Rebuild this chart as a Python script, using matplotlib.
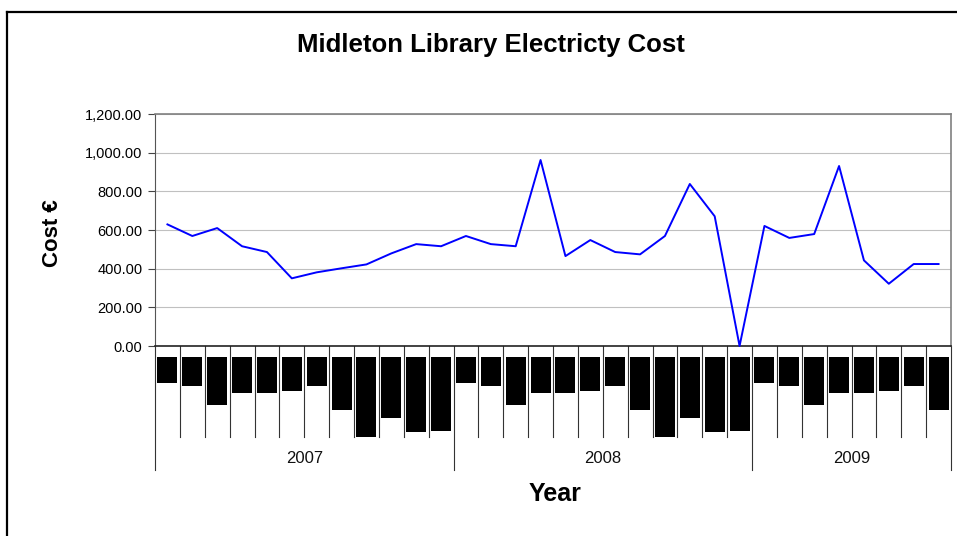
import numpy as np
import matplotlib
matplotlib.use("Agg")
import matplotlib.pyplot as plt
import matplotlib.transforms as mtransforms
from matplotlib.lines import Line2D
from matplotlib.patches import Rectangle
from matplotlib.ticker import FuncFormatter

# ===== DATA =====
years = ["2007", "2008", "2009"]
months_per_year = [12, 12, 8]
month_names = ["Jan", "Feb", "Mar", "Apr", "May", "Jun",
               "Jul", "Aug", "Sep", "Oct", "Nov", "Dec"]
cost = [629, 569, 610, 516, 486, 350, 381, 402, 422, 479, 527, 516,
        569, 527, 516, 962, 465, 548, 486, 474, 569, 838, 671, 0,
        621, 559, 579, 931, 443, 322, 424, 424]
y_ticks = [0, 200, 400, 600, 800, 1000, 1200]

# ===== LAYOUT (pixels) =====
W, H = 957, 536
plot_px = dict(left=155, right=951, top=114, bottom=346)
# month labels render as black blocks in the reference; length per month in px
label_len_px = [26, 29, 48, 36, 36, 34, 29, 53, 80, 61, 75, 74]

plt.rcParams["font.family"] = ["Liberation Sans", "DejaVu Sans"]

fig = plt.figure(figsize=(W / 100, H / 100), dpi=100)
ax = fig.add_axes([plot_px["left"] / W, 1 - plot_px["bottom"] / H,
                   (plot_px["right"] - plot_px["left"]) / W,
                   (plot_px["bottom"] - plot_px["top"]) / H])
ax_h = plot_px["bottom"] - plot_px["top"]


def px_to_ax(py):
    # figure pixel y -> axes fraction y
    return (plot_px["bottom"] - py) / ax_h


n = len(cost)
x = np.arange(n)

# ===== LINE =====
ax.plot(x, cost, color="#0000FF", lw=1.4, zorder=3, clip_on=False)

ax.set_xlim(-0.5, n - 0.5)
ax.set_ylim(0, 1200)
ax.set_yticks(y_ticks)
ax.yaxis.set_major_formatter(FuncFormatter(lambda v, p: f"{v:,.2f}"))
ax.tick_params(axis="y", direction="out", length=5, width=0.8, color="#444444",
               labelsize=10.5, pad=4)
ax.set_xticks([])
ax.grid(axis="y", color="#c0c0c0", lw=0.8)
ax.set_axisbelow(True)

for side in ["top", "right"]:
    ax.spines[side].set_color("#808080")
    ax.spines[side].set_linewidth(1.2)
ax.spines["left"].set_color("#555555")
ax.spines["bottom"].set_color("#222222")
ax.spines["bottom"].set_linewidth(1.2)

# ===== MULTI-LEVEL X AXIS =====
trans = mtransforms.blended_transform_factory(ax.transData, ax.transAxes)
bounds = np.arange(n + 1) - 0.5
year_edges = np.concatenate([[0], np.cumsum(months_per_year)]) - 0.5

for b in bounds:
    if b in year_edges:
        continue
    ax.add_line(Line2D([b, b], [0, px_to_ax(437)], transform=trans,
                       color="#333333", lw=0.8, clip_on=False))
for b in year_edges:
    ax.add_line(Line2D([b, b], [0, px_to_ax(470)], transform=trans,
                       color="#333333", lw=0.8, clip_on=False))

block_w = 0.8
top = px_to_ax(357)
for i in range(n):
    # month index within its year
    k = i
    for cnt in months_per_year:
        if k < cnt:
            break
        k -= cnt
    bot = px_to_ax(357 + label_len_px[k])
    ax.add_patch(Rectangle((i - block_w / 2, bot), block_w, top - bot,
                           transform=trans, facecolor="black",
                           edgecolor="none", clip_on=False))
    ax.text(i, top - 0.01, month_names[k], transform=trans, rotation=90,
            ha="center", va="top", fontsize=7, color="black", clip_on=False)

for yr, a, b in zip(years, year_edges[:-1], year_edges[1:]):
    ax.text((a + b) / 2, px_to_ax(458), yr, transform=trans, ha="center",
            va="center", fontsize=12, color="#111111")

# ===== TITLES =====
fig.text(491 / W, 1 - 45 / H, "Midleton Library Electricty Cost",
         ha="center", va="center", fontsize=18.5, fontweight="bold")
fig.text(52 / W, 1 - 233 / H, "Cost €", rotation=90, ha="center",
         va="center", fontsize=16, fontweight="bold")
fig.text(555 / W, 1 - 494 / H, "Year", ha="center", va="center",
         fontsize=18, fontweight="bold")

# ===== FIGURE FRAME (left + top visible) =====
fig.add_artist(Line2D([7 / W, 7 / W], [0, 1 - 12 / H], transform=fig.transFigure,
                      color="black", lw=1.6))
fig.add_artist(Line2D([7 / W, 1], [1 - 12 / H, 1 - 12 / H],
                      transform=fig.transFigure, color="black", lw=1.6))

fig.savefig("out.png", dpi=100)
